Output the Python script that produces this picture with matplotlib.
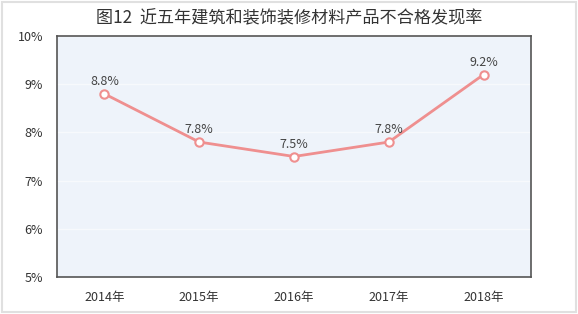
import matplotlib.pyplot as plt
from matplotlib.patches import Rectangle

plt.rcParams['font.family'] = ['Noto Sans CJK SC', 'DejaVu Sans']

# 近五年建筑和装饰装修材料产品不合格发现率
years = ['2014年', '2015年', '2016年', '2017年', '2018年']
rates = [8.8, 7.8, 7.5, 7.8, 9.2]
yticks = [5, 6, 7, 8, 9, 10]

fig = plt.figure(figsize=(5.78, 3.14), dpi=100)
ax = fig.add_axes([57 / 578, 1 - 277 / 314, 474 / 578, 241 / 314])
ax.set_facecolor('#eef3fa')

x = list(range(len(years)))
ax.plot(x, rates, color='#ef8f8f', lw=2, marker='o', ms=6,
        markerfacecolor='white', markeredgecolor='#ef8f8f', mew=1.5, zorder=3)
for xi, v in zip(x, rates):
    ax.annotate(f'{v}%', (xi, v), xytext=(0, 4), textcoords='offset points',
                ha='center', va='bottom', fontsize=9, color='#444444')

ax.set_xlim(-0.5, 4.5)
ax.set_ylim(5, 10)
ax.set_xticks(x)
ax.set_xticklabels(years, fontsize=9, color='#333333')
ax.set_yticks(yticks)
ax.set_yticklabels([f'{t}%' for t in yticks], fontsize=9, color='#333333')
ax.tick_params(length=0, pad=10)
ax.grid(axis='y', color='#f7f9fc', lw=1)
ax.set_axisbelow(True)
for s in ax.spines.values():
    s.set_color('#555555')
    s.set_linewidth(1.2)

fig.text(0.5, 1 - 18 / 314, '图12  近五年建筑和装饰装修材料产品不合格发现率',
         ha='center', va='center', fontsize=12.3, fontweight='medium', color='#333333')
fig.patches.append(Rectangle((0.003, 0.005), 0.994, 0.99, transform=fig.transFigure,
                             fill=False, edgecolor='#e0e0e0', lw=1.5))

fig.savefig('out.png', dpi=100)
